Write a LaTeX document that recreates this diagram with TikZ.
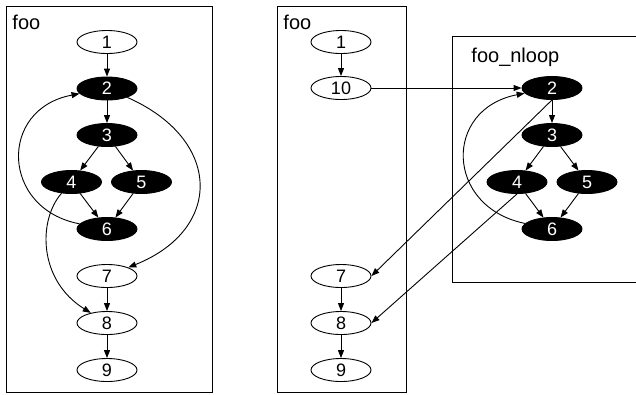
\documentclass[tikz,border=0pt]{standalone}
\usepackage{fontspec}
\setmainfont{Liberation Sans}
\usetikzlibrary{shapes.geometric,arrows.meta}

\tikzset{every picture/.style={line width=0.9pt}}
\tikzset{
  plainnode/.style={ellipse,draw,fill=white,minimum width=60pt,minimum height=23pt,inner sep=0pt,font=\fontsize{18}{20}\selectfont},
  loopnode/.style={plainnode,fill=black,text=white},
  flow/.style={-{Triangle[length=8pt,width=6pt]}},
  boxlabel/.style={anchor=base west,inner sep=0pt,font=\fontsize{20}{22}\selectfont}
}

\begin{document}
\begin{tikzpicture}[x=1pt,y=1pt,yscale=-1,xscale=1]
\useasboundingbox (0,0) rectangle (636,394);

%Shape: Rectangle
\draw (6,6) rectangle (212,392);
%Shape: Rectangle
\draw (277,6) rectangle (406,392);
%Shape: Rectangle
\draw (452,36) rectangle (650,282);

% Text Node
\node [boxlabel] (ltitle) at (12,29) {foo};
% Text Node
\node [boxlabel] (rtitle) at (283,29) {foo};
% Text Node
\node [boxlabel] (looptitle) at (471,62) {foo\_nloop};

% left graph
\node [plainnode] (l1) at (107,42) {1};
\node [loopnode] (l2) at (107,88.5) {2};
\node [loopnode] (l3) at (107,135) {3};
\node [loopnode] (l4) at (71.5,182) {4};
\node [loopnode] (l5) at (141.5,182) {5};
\node [loopnode] (l6) at (107,229) {6};
\node [plainnode] (l7) at (107,276) {7};
\node [plainnode] (l8) at (107,323) {8};
\node [plainnode] (l9) at (107,370) {9};

%Straight Lines
\draw [flow] (l1) -- (l2);
\draw [flow] (l2) -- (l3);
\draw [flow] (l3) -- (l4);
\draw [flow] (l3) -- (l5);
\draw [flow] (l4) -- (l6);
\draw [flow] (l5) -- (l6);
\draw [flow] (l7) -- (l8);
\draw [flow] (l8) -- (l9);
%Curve Lines
\draw [flow] (l6) .. controls (1,209) and (-2,109) .. (l2);
%Curve Lines
\draw [flow] (l2) .. controls (222,139) and (224,229) .. (l7);
%Curve Lines
\draw [flow] (l4) .. controls (38,220) and (38,280) .. (l8);

% right graph
\node [plainnode] (r1) at (341,42) {1};
\node [plainnode] (r10) at (341,88) {10};
\node [plainnode] (r7) at (341,276) {7};
\node [plainnode] (r8) at (341,323) {8};
\node [plainnode] (r9) at (341,370) {9};
\node [loopnode] (r2) at (552,88) {2};
\node [loopnode] (r3) at (552,135) {3};
\node [loopnode] (r4) at (517,182) {4};
\node [loopnode] (r5) at (587,182) {5};
\node [loopnode] (r6) at (552,229) {6};

%Straight Lines
\draw [flow] (r1) -- (r10);
\draw [flow] (r10) -- (r2);
\draw [flow] (r2) -- (r3);
\draw [flow] (r3) -- (r4);
\draw [flow] (r3) -- (r5);
\draw [flow] (r4) -- (r6);
\draw [flow] (r5) -- (r6);
\draw [flow] (r2.south) -- (r7.east);
\draw [flow] (r4.south) -- (r8.east);
\draw [flow] (r7) -- (r8);
\draw [flow] (r8) -- (r9);
%Curve Lines
\draw [flow] (r6) .. controls (445,207) and (443,109) .. (r2);

\end{tikzpicture}
\end{document}
